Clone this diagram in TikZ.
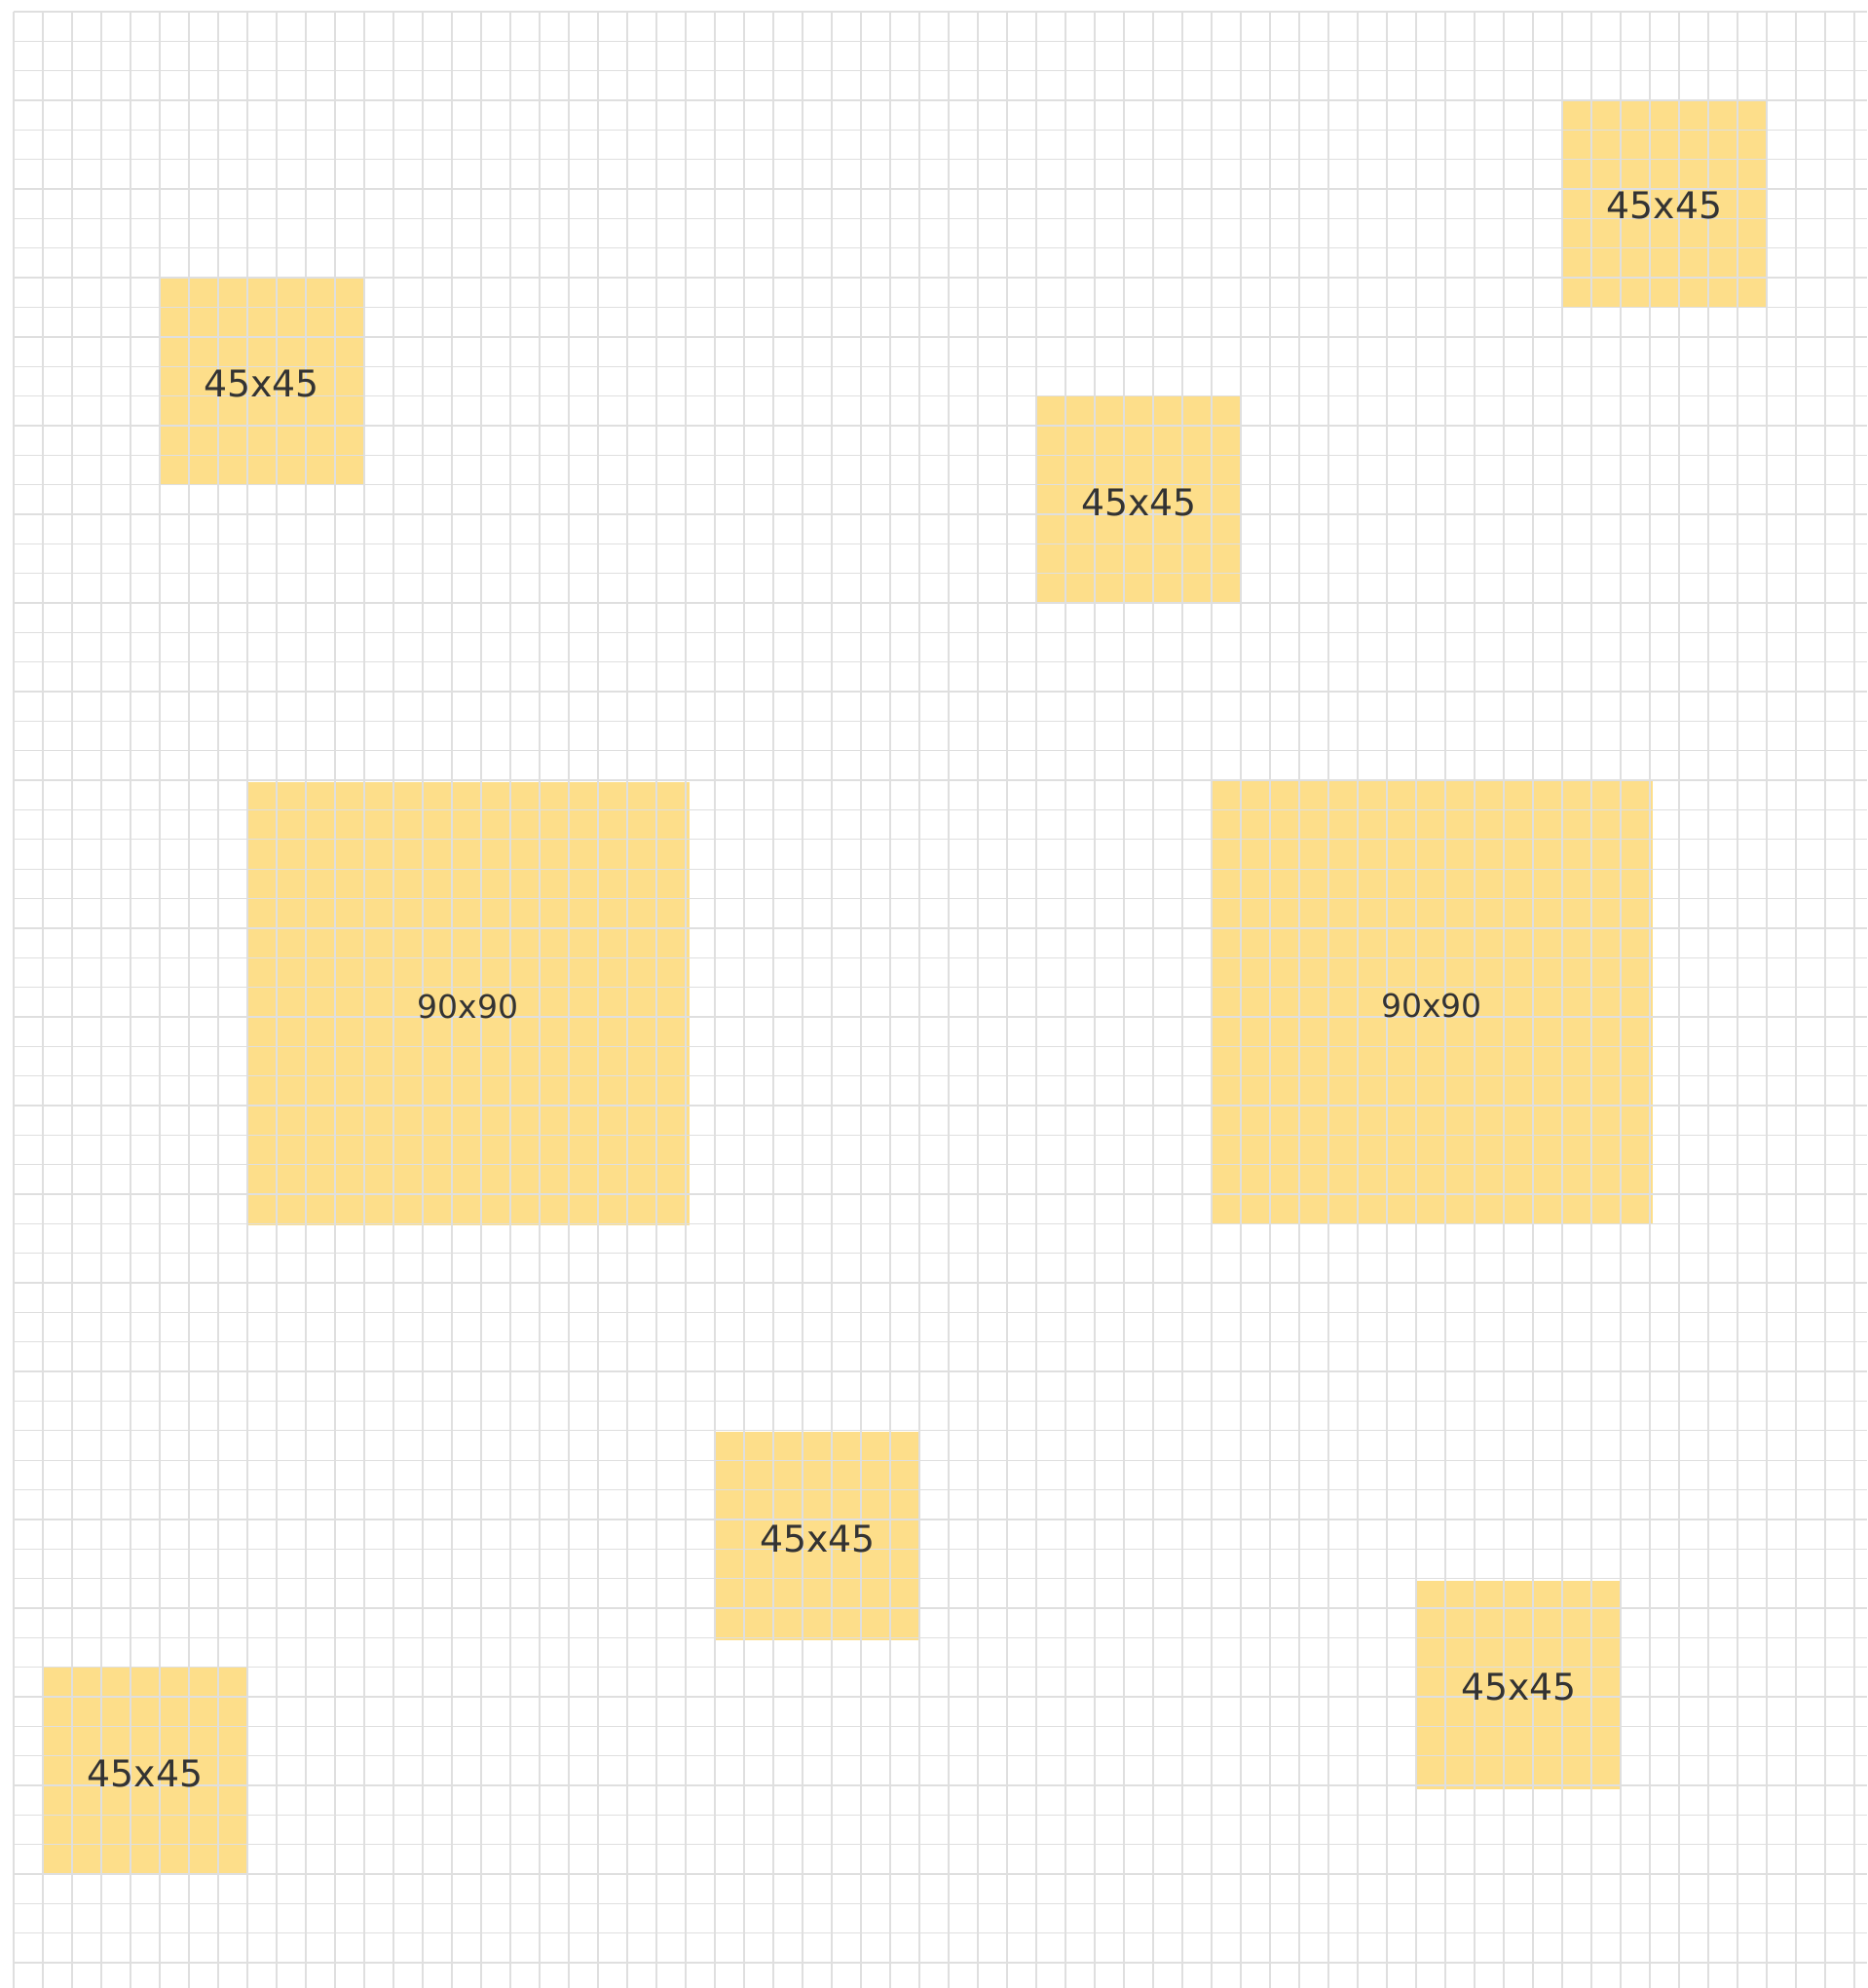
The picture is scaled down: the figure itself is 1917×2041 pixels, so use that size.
\documentclass[tikz,border=0pt]{standalone}
\usepackage{fontspec}
\setmainfont{DejaVu Sans}
\usepackage{tikz}
\usetikzlibrary{positioning}
\definecolor{tileyellow}{HTML}{FDDE8A}
\definecolor{gridgray}{HTML}{DFDFDF}
\definecolor{labelgray}{HTML}{333333}

\begin{document}
\begin{tikzpicture}[x=0.02cm, y=-0.02cm,
    small/.style={rectangle, fill=tileyellow, inner sep=0pt,
                  minimum width=4.2cm, minimum height=4.28cm},
    big/.style={rectangle, fill=tileyellow, inner sep=0pt,
                minimum width=9.1cm, minimum height=9.1cm},
    gridline/.style={draw=gridgray, line width=0.75pt},
    tag/.style={text=labelgray, inner sep=0pt, yshift=-0.05cm,
                font=\fontsize{21.5}{26}\selectfont},
    bigtag/.style={tag, font=\fontsize{18.8}{22}\selectfont},
]
\useasboundingbox (0,0) rectangle (1917,2041);
\fill[white] (0,0) rectangle (1917,2041);

% Tiles
\node[small] (topleft)  at (268.5,391.2)  {};
\node[small] (topright) at (1709,208.7)   {};
\node[small] (mid)      at (1169.5,513.2) {};
\node[big]   (bigleft)  at (480.3,1030.5) {};
\node[big]   (bigright) at (1470,1029.8)  {};
\node[small] (lowmid)   at (839.5,1577.2) {};
\node[small] (lowright) at (1559.5,1729.5) {};
\node[small] (botleft)  at (149,1818)     {};

% Grid
\foreach \k in {0,...,63}
    \draw[gridline] ({14+30*\k},12) -- ({14+30*\k},2041);
\foreach \k in {0,...,66}
    \draw[gridline] (14,{12+30.35*\k}) -- (1917,{12+30.35*\k});

% Labels
\foreach \t in {topleft, topright, mid, lowmid, lowright, botleft}
    \node[tag] (\t-lbl) at (\t) {45x45};
\foreach \t in {bigleft, bigright}
    \node[bigtag] (\t-lbl) at (\t) {90x90};
\end{tikzpicture}
\end{document}
